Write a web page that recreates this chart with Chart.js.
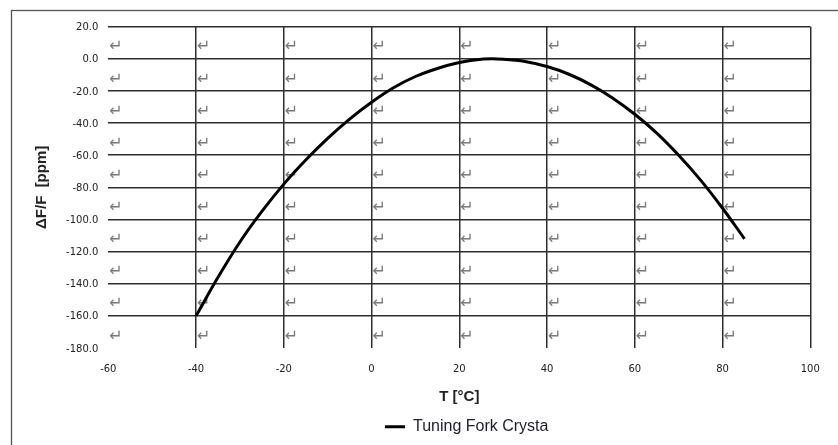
<!DOCTYPE html>
<html>
<head>
<meta charset="utf-8">
<script src="https://cdn.jsdelivr.net/npm/chart.js@4"></script>
<style>
  html, body { margin: 0; padding: 0; background: #fff; }
  #wrap { width: 838px; height: 445px; position: relative; }
</style>
</head>
<body>
<div id="wrap"><canvas id="c" width="838" height="445"></canvas></div>
<script>
// ---- data ----
const temperatures = [-40, -35, -30, -25, -20, -15, -10, -5, 0, 5, 10, 15, 20, 25, 27.5, 30, 35, 40, 45, 50, 55, 60, 65, 70, 75, 80, 85];
const deltaPpm     = [-160, -136, -114, -95, -78, -63, -49.5, -37.5, -27, -18, -11, -6, -2.3, -0.2, 0, -0.2, -1.6, -4.8, -9.6, -16.2, -24.5, -34.5, -46.2, -60, -75.5, -93, -112];
const xTickValues = [-60, -40, -20, 0, 20, 40, 60, 80, 100];
const yTickValues = [20, 0, -20, -40, -60, -80, -100, -120, -140, -160, -180];
const seriesName = 'Tuning Fork Crysta';
const xTitle = 'T [°C]';
const yTitle = 'ΔF/F  [ppm]';
const cellMark = '\u21B5';

const points = temperatures.map((t, i) => ({ x: t, y: deltaPpm[i] }));
const xMin = Math.min(...xTickValues), xMax = Math.max(...xTickValues);
const yMin = Math.min(...yTickValues), yMax = Math.max(...yTickValues);

const decorations = {
  id: 'decorations',
  beforeDraw(chart) {
    const ctx = chart.ctx;
    ctx.save();
    ctx.strokeStyle = '#555';
    ctx.lineWidth = 1.3;
    ctx.strokeRect(11.5, 10.5, 1200, 900);
    ctx.restore();
  },
  afterLayout(chart) {
    const lg = chart.legend;
    if (!lg || !lg.lineWidths) return;
    const pad = lg.options.labels.padding;
    const cur = (lg.left + pad + lg.right - lg.lineWidths[0]) / 2;
    const dx = 385 - cur;
    lg.left += dx; lg.right += dx;
    const fs = lg.options.labels.font.size;
    const newTop = 426.7 - pad - fs / 2;
    const h = lg.height;
    lg.top = newTop; lg.bottom = newTop + h;
  },
  beforeDatasetsDraw(chart) {
    const ctx = chart.ctx;
    const xs = chart.scales.x, ys = chart.scales.y;
    ctx.save();
    ctx.fillStyle = '#7a7a7a';
    ctx.font = '16px "DejaVu Sans"';
    ctx.textAlign = 'left';
    ctx.textBaseline = 'middle';
    for (let i = 0; i < xTickValues.length - 1; i++) {
      const left = xs.getPixelForValue(Math.min(xTickValues[i], xTickValues[i + 1]));
      for (let j = 0; j < yTickValues.length - 1; j++) {
        const yc = (ys.getPixelForValue(yTickValues[j]) + ys.getPixelForValue(yTickValues[j + 1])) / 2;
        ctx.fillText(cellMark, left + 1, yc + 4.5);
      }
    }
    ctx.restore();
  }
};

new Chart(document.getElementById('c'), {
  type: 'line',
  data: {
    datasets: [{
      label: seriesName,
      data: points,
      borderColor: '#000',
      backgroundColor: '#000',
      borderWidth: 3,
      pointRadius: 0,
      cubicInterpolationMode: 'monotone',
      fill: false
    }]
  },
  options: {
    responsive: false,
    animation: false,
    devicePixelRatio: 1,
    layout: { padding: { top: 26.7, right: 27.7, left: 0, bottom: 0 } },
    plugins: {
      tooltip: { enabled: false },
      legend: {
        display: true,
        position: 'bottom',
        labels: {
          usePointStyle: true,
          pointStyle: 'line',
          pointStyleWidth: 20,
          padding: 10,
          color: '#1e1e28',
          font: { family: '"Liberation Sans", Arial, sans-serif', size: 16 }
        }
      }
    },
    scales: {
      x: {
        type: 'linear',
        min: xMin, max: xMax,
        afterFit(scale) { scale.height = 61; },
        afterBuildTicks(scale) { scale.ticks = xTickValues.map(v => ({ value: v })); },
        ticks: {
          padding: 15,
          color: '#222',
          font: { family: '"DejaVu Sans", sans-serif', size: 10 },
          maxRotation: 0,
          callback: v => String(v)
        },
        grid: {
          drawTicks: false,
          lineWidth: 1.5,
          color: ctx => (ctx.tick && ctx.tick.value === xMin) ? 'rgba(0,0,0,0)' : '#2e2e2e'
        },
        border: { display: false },
        title: {
          display: true,
          text: xTitle,
          color: '#222',
          font: { family: '"Liberation Sans", Arial, sans-serif', size: 15, weight: 'bold' },
          padding: { top: 0, bottom: 3 }
        }
      },
      y: {
        type: 'linear',
        min: yMin, max: yMax,
        afterFit(scale) { scale.width = 108.3; },
        afterBuildTicks(scale) { scale.ticks = yTickValues.slice().reverse().map(v => ({ value: v })); },
        ticks: {
          padding: 10,
          labelOffset: 1,
          color: '#222',
          font: { family: '"DejaVu Sans", sans-serif', size: 10 },
          callback: v => Number(v).toFixed(1)
        },
        grid: {
          drawTicks: false,
          lineWidth: 1.5,
          color: ctx => (ctx.tick && ctx.tick.value === yMin) ? 'rgba(0,0,0,0)' : '#2e2e2e'
        },
        border: { display: false },
        title: {
          display: true,
          text: yTitle,
          color: '#222',
          font: { family: '"Liberation Sans", Arial, sans-serif', size: 15, weight: 'bold' },
          padding: { top: 33, bottom: 0 }
        }
      }
    }
  },
  plugins: [decorations]
});
</script>
</body>
</html>
